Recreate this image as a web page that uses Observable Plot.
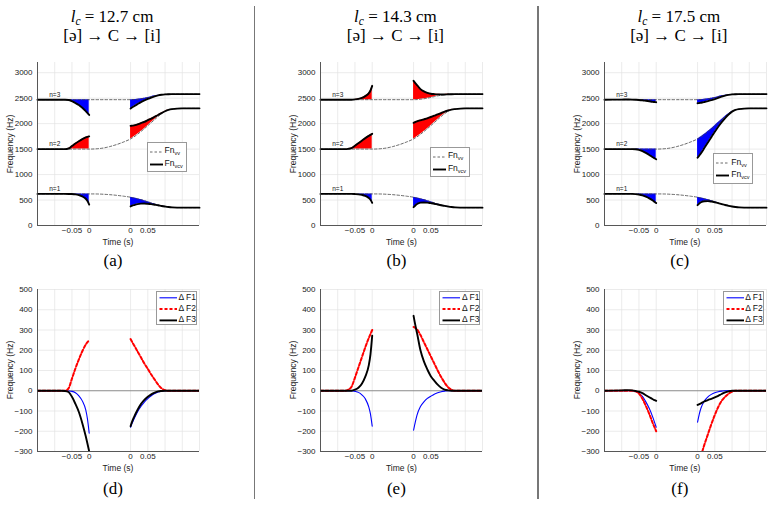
<!DOCTYPE html>
<html><head><meta charset="utf-8">
<script src="https://cdn.jsdelivr.net/npm/d3@7"></script>
<script src="https://cdn.jsdelivr.net/npm/@observablehq/plot@0.6"></script>
<style>
body{margin:0;background:#fff;}
#root{position:relative;width:772px;height:506px;overflow:hidden;background:#fff;font-family:"Liberation Sans",Arial,sans-serif;}
.title{position:absolute;font-family:"Liberation Serif","DejaVu Serif",serif;font-size:17px;color:#000;white-space:nowrap;transform:translateX(-50%);line-height:17px;}
.cap{position:absolute;font-family:"Liberation Serif","DejaVu Serif",serif;font-size:17px;color:#000;white-space:nowrap;transform:translateX(-50%);line-height:17px;}
.ylab{position:absolute;font-size:8.5px;line-height:9px;color:#222;white-space:nowrap;transform:translate(-50%,-50%) rotate(-90deg);}
.xlab{position:absolute;font-size:8.5px;line-height:9px;color:#222;white-space:nowrap;transform:translate(-50%,-50%);}
.sep{position:absolute;background:#777;width:1.6px;}
.leg{position:absolute;background:#fff;border:1px solid #999;box-sizing:border-box;}
.leg span{position:absolute;font-size:8.5px;color:#111;white-space:nowrap;line-height:9px;}
.leg sub{font-size:5.5px;vertical-align:-2px;}
svg{overflow:visible;}
</style></head>
<body><div id="root"></div>
<script>
// ---------- data ----------
const lcValues = ["12.7", "14.3", "17.5"];
const topCaptions = ["(a)", "(b)", "(c)"];
const bottomCaptions = ["(d)", "(e)", "(f)"];

// segment times (s): before closure (left) and after release (right)
const tL = [-0.15, -0.1, -0.08, -0.07, -0.06, -0.05, -0.04, -0.03, -0.02, -0.01, -0.005, 0];
const tR = [0, 0.005, 0.01, 0.02, 0.03, 0.04, 0.05, 0.06, 0.07, 0.08, 0.09, 0.10, 0.11, 0.12, 0.15, 0.2];
// closure gap on the drawn time axis (dashed Fn_vv only)
const gapU = [0, 0.02, 0.04, 0.06, 0.08, 0.10, 0.12];
const releaseShift = 0.12;

// Fn_vv (shared by the three lengths)
const vvF1L = [620, 620, 620, 620, 620, 620, 620, 620, 620, 620, 620, 620];
const vvF2L = [1500, 1500, 1500, 1500, 1500, 1500, 1500, 1500, 1500, 1500, 1500, 1500];
const vvF3L = [2470, 2470, 2470, 2470, 2470, 2470, 2470, 2470, 2470, 2470, 2470, 2470];
const vvF1G = [620, 619, 614, 605, 592, 575, 555];
const vvF2G = [1500, 1505, 1520, 1550, 1590, 1640, 1700];
const vvF3G = [2470, 2470, 2470, 2470, 2470, 2470, 2470];
const vvF1R = [555, 548, 541, 526, 508, 488, 466, 444, 422, 403, 386, 373, 363, 356, 350, 350];
const vvF2R = [1700, 1720, 1740, 1790, 1845, 1900, 1960, 2020, 2080, 2140, 2195, 2240, 2270, 2285, 2300, 2300];
const vvF3R = [2470, 2471, 2472, 2478, 2488, 2500, 2515, 2530, 2545, 2557, 2567, 2574, 2578, 2579, 2580, 2580];

// Delta F = Fn_vcv - Fn_vv, lc = 12.7 cm
const dF1L_a = [0, 0, 0, 0, -1, -3, -10, -25, -50, -95, -140, -210];
const dF2L_a = [0, 0, 0, 0, 12, 60, 110, 155, 195, 228, 240, 250];
const dF3L_a = [0, 0, 0, -1, -6, -30, -65, -105, -160, -225, -262, -300];
const dF1R_a = [-180, -158, -140, -105, -78, -56, -39, -25, -14, -6, -2, 0, 0, 0, 0, 0];
const dF2R_a = [255, 240, 225, 195, 165, 135, 108, 80, 55, 30, 12, 3, 0, 0, 0, 0];
const dF3R_a = [-175, -150, -130, -95, -66, -45, -30, -18, -9, -3, -1, 0, 0, 0, 0, 0];
// lc = 14.3 cm
const dF1L_b = [0, 0, 0, 0, 0, -3, -8, -20, -40, -80, -115, -175];
const dF2L_b = [0, 0, 0, 5, 20, 65, 115, 165, 215, 260, 280, 300];
const dF3L_b = [0, 0, 0, 0, 0, 5, 15, 35, 70, 125, 180, 272];
const dF1R_b = [-195, -155, -120, -78, -55, -38, -27, -17, -10, -5, -2, 0, 0, 0, 0, 0];
const dF2R_b = [315, 310, 303, 275, 240, 205, 170, 135, 100, 68, 40, 18, 5, 0, 0, 0];
const dF3R_b = [370, 325, 285, 200, 145, 105, 72, 50, 30, 15, 6, 2, 0, 0, 0, 0];
// lc = 17.5 cm
const dF1L_c = [0, 0, 0, 0, -3, -12, -28, -55, -88, -130, -155, -180];
const dF2L_c = [0, 0, 0, 0, -3, -14, -40, -75, -115, -160, -180, -200];
const dF3L_c = [0, 2, 3, 2, -1, -5, -12, -22, -32, -42, -46, -50];
const dF1R_c = [-155, -115, -85, -50, -30, -18, -10, -5, -2, 0, 0, 0, 0, 0, 0, 0];
const dF2R_c = [-370, -345, -320, -265, -215, -165, -120, -80, -50, -30, -15, -5, 0, 0, 0, 0];
const dF3R_c = [-70, -66, -62, -53, -46, -40, -33, -25, -16, -8, -3, 0, 0, 0, 0, 0];

const xTickU = [-0.05, 0, 0.12, 0.17];
const xTickLabels = ["\u22120.05", "0", "0", "0.05"];
const xGridU = [-0.1, -0.05, 0, 0.12, 0.17, 0.22, 0.27, 0.32];
const yTicksTop = [0, 500, 1000, 1500, 2000, 2500, 3000];
const yTicksBottom = [-300, -200, -100, 0, 100, 200, 300, 400, 500];
const deltaNames = ["\u0394 F1", "\u0394 F2", "\u0394 F3"];

// ---------- build ----------
const panels = [
  {dL: [dF1L_a, dF2L_a, dF3L_a], dR: [dF1R_a, dF2R_a, dF3R_a]},
  {dL: [dF1L_b, dF2L_b, dF3L_b], dR: [dF1R_b, dF2R_b, dF3R_b]},
  {dL: [dF1L_c, dF2L_c, dF3L_c], dR: [dF1R_c, dF2R_c, dF3R_c]}
];
const vvL = [vvF1L, vvF2L, vvF3L], vvG = [vvF1G, vvF2G, vvF3G], vvR = [vvF1R, vvF2R, vvF3R];

const root = document.getElementById("root");
const panelLeft = [37, 320.4, 603.8];
const fmt = d => (d < 0 ? "\u2212" + Math.abs(d) : String(d));
const FONT = "Liberation Sans, Arial, sans-serif";
const BLUE = "#0000ff", RED = "#ff0000";

function place(el, x, y) { el.style.position = "absolute"; el.style.left = x + "px"; el.style.top = y + "px"; root.appendChild(el); }
function div(cls, html, x, y) { const d = document.createElement("div"); d.className = cls; d.innerHTML = html; d.style.left = x + "px"; d.style.top = y + "px"; root.appendChild(d); return d; }

function topPlot(p) {
  const segs = [], dashed = [], labels = [];
  for (let k = 0; k < 3; k++) {
    const dl = p.dL[k], dr = p.dR[k];
    const colL = dl[dl.length - 1] < 0 ? "blue" : "red";
    const colR = dr[0] < 0 ? "blue" : "red";
    tL.forEach((t, i) => segs.push({u: t, vv: vvL[k][i], vcv: vvL[k][i] + dl[i], key: "L" + k, col: colL}));
    tR.forEach((t, i) => segs.push({u: t + releaseShift, vv: vvR[k][i], vcv: vvR[k][i] + dr[i], key: "R" + k, col: colR}));
    tL.forEach((t, i) => dashed.push({u: t, f: vvL[k][i], key: k}));
    gapU.forEach((u, i) => { if (i > 0 && i < gapU.length - 1) dashed.push({u, f: vvG[k][i], key: k}); });
    tR.forEach((t, i) => dashed.push({u: t + releaseShift, f: vvR[k][i], key: k}));
    labels.push({u: -0.1, f: vvL[k][0], text: "n=" + (k + 1)});
  }
  return Plot.plot({
    width: 209, height: 205, marginLeft: 37, marginRight: 10, marginTop: 12, marginBottom: 30,
    style: {fontFamily: FONT, fontSize: "8px", color: "#222", background: "transparent"},
    x: {domain: [-0.15, 0.32], ticks: xTickU, tickFormat: d => xTickLabels[xTickU.indexOf(d)], tickSize: 0, tickPadding: 2, label: null},
    y: {domain: [0, 3200], ticks: yTicksTop, tickFormat: fmt, tickSize: 0, tickPadding: 5, label: null},
    marks: [
      Plot.ruleY(yTicksTop.slice(1), {stroke: "#e2e2e2", strokeWidth: 0.7}),
      Plot.ruleX(xGridU, {stroke: "#e2e2e2", strokeWidth: 0.7}),
      Plot.areaY(segs.filter(d => d.col === "blue"), {x: "u", y1: "vv", y2: "vcv", z: "key", fill: BLUE, curve: "monotone-x"}),
      Plot.areaY(segs.filter(d => d.col === "red"), {x: "u", y1: "vv", y2: "vcv", z: "key", fill: RED, curve: "monotone-x"}),
      Plot.line(dashed, {x: "u", y: "f", z: "key", stroke: "#444", strokeWidth: 0.8, strokeDasharray: "2.5,2", curve: "monotone-x"}),
      Plot.line(segs, {x: "u", y: "vcv", z: "key", stroke: "#000", strokeWidth: 1.9, curve: "monotone-x"}),
      Plot.text(labels, {x: "u", y: "f", text: "text", dy: -5, fontSize: 6.5, fill: "#111"}),
      Plot.ruleX([-0.15], {stroke: "#444", strokeWidth: 0.9}),
      Plot.ruleY([0], {stroke: "#444", strokeWidth: 0.9})
    ]
  });
}

function bottomPlot(p) {
  const rows = [];
  for (let k = 0; k < 3; k++) {
    tL.forEach((t, i) => rows.push({u: t, d: p.dL[k][i], k, key: "L" + k}));
    tR.forEach((t, i) => rows.push({u: t + releaseShift, d: p.dR[k][i], k, key: "R" + k}));
  }
  const byK = k => rows.filter(r => r.k === k);
  return Plot.plot({
    width: 209, height: 205, marginLeft: 37, marginRight: 10, marginTop: 13, marginBottom: 30,
    style: {fontFamily: FONT, fontSize: "8px", color: "#222", background: "transparent"},
    x: {domain: [-0.15, 0.32], ticks: xTickU, tickFormat: d => xTickLabels[xTickU.indexOf(d)], tickSize: 0, tickPadding: 2, label: null},
    y: {domain: [-300, 500], ticks: yTicksBottom, tickFormat: fmt, tickSize: 0, tickPadding: 5, label: null},
    marks: [
      Plot.ruleY(yTicksBottom.filter(v => v !== -300 && v !== 0), {stroke: "#e2e2e2", strokeWidth: 0.7}),
      Plot.ruleX(xGridU, {stroke: "#e2e2e2", strokeWidth: 0.7}),
      Plot.ruleY([0], {stroke: "#8a8a8a", strokeWidth: 1.1}),
      Plot.line(byK(0), {x: "u", y: "d", z: "key", stroke: BLUE, strokeWidth: 1.1, curve: "monotone-x", clip: true}),
      Plot.line(byK(1), {x: "u", y: "d", z: "key", stroke: RED, strokeWidth: 2, strokeDasharray: "3,2", curve: "monotone-x", clip: true}),
      Plot.line(byK(2), {x: "u", y: "d", z: "key", stroke: "#000", strokeWidth: 1.9, curve: "monotone-x", clip: true}),
      Plot.ruleX([-0.15], {stroke: "#444", strokeWidth: 0.9}),
      Plot.ruleY([-300], {stroke: "#444", strokeWidth: 0.9})
    ]
  });
}

const topLegendY = [141.7, 146.7, 153.3];
panels.forEach((p, j) => {
  const L = panelLeft[j];
  const cx = L + 75;
  div("title", `<span style="font-style:italic">l</span><sub style="font-style:italic;font-size:11.5px;vertical-align:-3px">c</sub> = ${lcValues[j]} cm`, cx, 8);
  div("title", "[\u0259] \u2192 C \u2192 [i]", cx, 27);

  const t = topPlot(p); place(t, L - 37, 50);
  const b = bottomPlot(p); place(b, L - 37, 276);

  div("ylab", "Frequency (Hz)", L - 27, 143.5);
  div("ylab", "Frequency (Hz)", L - 27, 370);
  div("xlab", "Time (s)", L + 81, 241.5);
  div("xlab", "Time (s)", L + 81, 468);
  div("cap", topCaptions[j], L + 76, 252);
  div("cap", bottomCaptions[j], L + 76, 479.5);

  // top legend
  const lg = div("leg", "", L + 109.5, topLegendY[j]);
  lg.style.width = "40px"; lg.style.height = "30.5px";
  lg.innerHTML = `<svg width="40" height="30" style="position:absolute;left:0;top:0">
    <line x1="2" x2="15" y1="9" y2="9" stroke="#444" stroke-width="0.8" stroke-dasharray="2.5,2"/>
    <line x1="2" x2="15" y1="21.5" y2="21.5" stroke="#000" stroke-width="1.9"/></svg>
    <span style="left:17px;top:3.5px">Fn<sub>vv</sub></span>
    <span style="left:17px;top:16px">Fn<sub>vcv</sub></span>`;

  // bottom legend
  const lb = div("leg", "", L + 119, 290.7);
  lb.style.width = "41px"; lb.style.height = "34.5px";
  const cols = [BLUE, RED, "#000"], widths = [1.1, 2, 1.9], dash = ["", "3,2", ""];
  let svg = `<svg width="41" height="34" style="position:absolute;left:0;top:0">`;
  let spans = "";
  deltaNames.forEach((n, k) => {
    const y = 5.8 + k * 11.3;
    svg += `<line x1="2.5" x2="20" y1="${y}" y2="${y}" stroke="${cols[k]}" stroke-width="${widths[k]}" ${dash[k] ? `stroke-dasharray="${dash[k]}"` : ""}/>`;
    spans += `<span style="left:21.5px;top:${y - 4.8}px">${n}</span>`;
  });
  lb.innerHTML = svg + "</svg>" + spans;
});

[253.6, 537].forEach(x => { const s = div("sep", "", x, 6); s.style.height = "493px"; });
</script>
</body></html>
